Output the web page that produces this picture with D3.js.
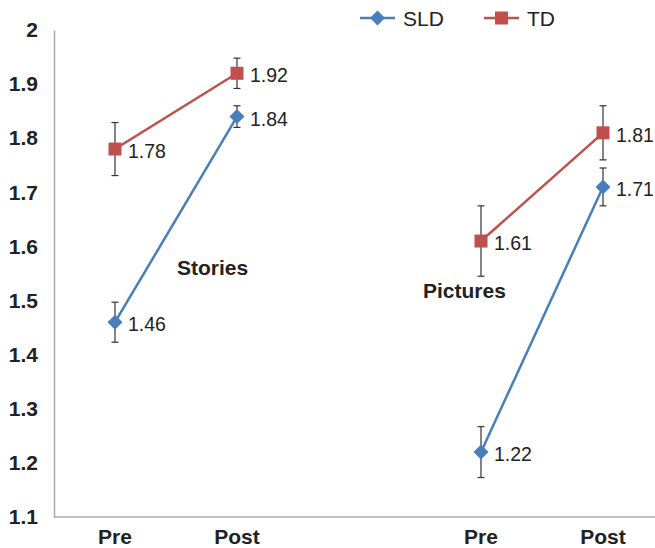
<!DOCTYPE html>
<html>
<head>
<meta charset="utf-8">
<script src="https://cdn.jsdelivr.net/npm/d3@7"></script>
<style>
  html, body { margin: 0; padding: 0; background: #fff; }
  svg { display: block; font-family: "Liberation Sans", Arial, Helvetica, sans-serif; }
</style>
</head>
<body>
<div id="chart"></div>
<script>
// pre/post scores, two tasks, SLD vs TD with error bars
const slots = ["s_pre", "s_post", "gap", "p_pre", "p_post"];
const slotLabels = ["Pre", "Post", "", "Pre", "Post"];
const pointSlots = ["s_pre", "s_post", "p_pre", "p_post"];
const pairs = [["s_pre", "s_post"], ["p_pre", "p_post"]];
const groupNames = ["Stories", "Pictures"];
const sldValues = [1.46, 1.84, 1.22, 1.71];
const sldErrors = [0.037, 0.02, 0.047, 0.035];
const tdValues = [1.78, 1.92, 1.61, 1.81];
const tdErrors = [0.049, 0.028, 0.065, 0.05];
const yTicks = [1.1, 1.2, 1.3, 1.4, 1.5, 1.6, 1.7, 1.8, 1.9, 2];
const seriesNames = ["SLD", "TD"];

const W = 655, H = 548;
const svg = d3.select("#chart").append("svg").attr("width", W).attr("height", H);

const x = d3.scalePoint().domain(slots).range([54, 664]).padding(0.5);
const y = d3.scaleLinear().domain([1.1, 2]).range([517, 30]);

// y axis
const yAxis = svg.append("g").attr("transform", "translate(54,0)")
  .call(d3.axisLeft(y).tickValues(yTicks).tickSize(0).tickPadding(16).tickFormat(d3.format("")));
yAxis.select(".domain").attr("stroke", "#aaa").attr("stroke-width", 1.5);
yAxis.selectAll("text").attr("font-size", 21).attr("font-weight", "bold").attr("fill", "#222")
  .attr("font-family", "'Liberation Sans', Arial, sans-serif");

// x axis
svg.append("line").attr("x1", 54).attr("x2", W).attr("y1", 517).attr("y2", 517)
  .attr("stroke", "#aaa").attr("stroke-width", 1.5);
svg.append("g").selectAll("text").data(slots).enter().append("text")
  .attr("x", d => x(d)).attr("y", 544).attr("text-anchor", "middle")
  .attr("font-size", 21).attr("font-weight", "bold").attr("fill", "#222")
  .text((d, i) => slotLabels[i]);

const series = [
  { name: "SLD", values: sldValues, errors: sldErrors, color: "#4a7ebb", shape: "diamond" },
  { name: "TD", values: tdValues, errors: tdErrors, color: "#c0504d", shape: "square" }
];

function marker(g, shape, color, cx, cy) {
  if (shape === "square") {
    g.append("rect").attr("x", cx - 6.5).attr("y", cy - 6.5).attr("width", 13).attr("height", 13).attr("fill", color);
  } else {
    g.append("path").attr("d", `M${cx},${cy - 7.5}L${cx + 7.5},${cy}L${cx},${cy + 7.5}L${cx - 7.5},${cy}Z`).attr("fill", color);
  }
}

series.forEach(s => {
  const g = svg.append("g");
  const pts = pointSlots.map((k, i) => ({ k, v: s.values[i], e: s.errors[i] }));
  // lines, one per task
  pairs.forEach(p => {
    const seg = pts.filter(d => p.includes(d.k));
    g.append("path").datum(seg)
      .attr("d", d3.line().x(d => x(d.k)).y(d => y(d.v)))
      .attr("fill", "none").attr("stroke", s.color).attr("stroke-width", 2.5);
  });
  // error bars
  pts.forEach(d => {
    const cx = x(d.k);
    g.append("line").attr("x1", cx).attr("x2", cx).attr("y1", y(d.v + d.e)).attr("y2", y(d.v - d.e))
      .attr("stroke", "#333").attr("stroke-width", 1.2);
    [d.v + d.e, d.v - d.e].forEach(v => {
      g.append("line").attr("x1", cx - 3.5).attr("x2", cx + 3.5).attr("y1", y(v)).attr("y2", y(v))
        .attr("stroke", "#333").attr("stroke-width", 1.2);
    });
  });
  pts.forEach(d => {
    marker(g, s.shape, s.color, x(d.k), y(d.v));
    g.append("text").attr("x", x(d.k) + 13).attr("y", y(d.v) + 9)
      .attr("font-size", 19.5).attr("fill", "#222").text(d3.format(".2f")(d.v));
  });
});

// task labels
svg.append("text").attr("x", 177).attr("y", 275).attr("font-size", 21).attr("font-weight", "bold")
  .attr("fill", "#222").text(groupNames[0]);
svg.append("text").attr("x", 423).attr("y", 298).attr("font-size", 21).attr("font-weight", "bold")
  .attr("fill", "#222").text(groupNames[1]);

// legend
const legendX = [360, 484];
series.forEach((s, i) => {
  const lg = svg.append("g");
  lg.append("line").attr("x1", legendX[i]).attr("x2", legendX[i] + 35).attr("y1", 18).attr("y2", 18)
    .attr("stroke", s.color).attr("stroke-width", 2.5);
  marker(lg, s.shape, s.color, legendX[i] + 17.5, 18);
  lg.append("text").attr("x", legendX[i] + 43).attr("y", 25.5).attr("font-size", 21).attr("fill", "#222").text(seriesNames[i]);
});
</script>
</body>
</html>
